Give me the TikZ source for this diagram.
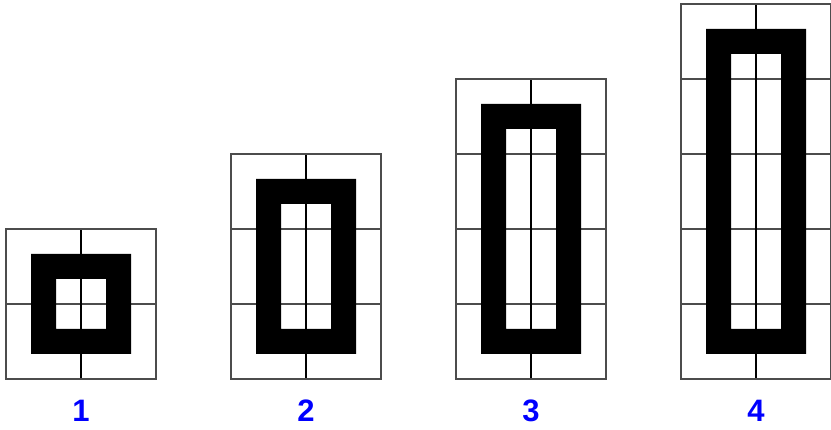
\documentclass[tikz,border=0pt]{standalone}
\usepackage{fontspec}
\setmainfont{Liberation Sans}
\begin{document}
\begin{tikzpicture}[x=1pt,y=-1pt,
  gridline/.style={draw=black!70,line width=1.2pt},
  midline/.style={draw=black,line width=1.2pt},
  ringfill/.style={fill=black,even odd rule},
  numlabel/.style={text=blue,font=\fontsize{31}{31}\selectfont\bfseries,inner sep=0pt}]
\useasboundingbox (0,0) rectangle (831,430);
\foreach \i in {1,2,3,4}{
  \pgfmathsetmacro{\L}{6+225*(\i-1)}
  \pgfmathsetmacro{\T}{379-75*(\i+1)}
  \pgfmathsetmacro{\R}{\L+150}
  \pgfmathsetmacro{\M}{\L+75}
  % horizontal grid lines
  \foreach \k in {1,...,\i}{
    \draw[gridline] (\L,{\T+75*\k}) -- (\R,{\T+75*\k});
  }
  \draw[midline] (\M,\T) -- (\M,379);
  \draw[gridline] (\L,\T) rectangle (\R,379);
  \fill[ringfill] ({\L+25},{\T+25}) rectangle ({\L+125},354)
                  ({\L+50},{\T+50}) rectangle ({\L+100},329);
  \node[numlabel] (n\i) at (\M,411) {\i};
}
\end{tikzpicture}
\end{document}
